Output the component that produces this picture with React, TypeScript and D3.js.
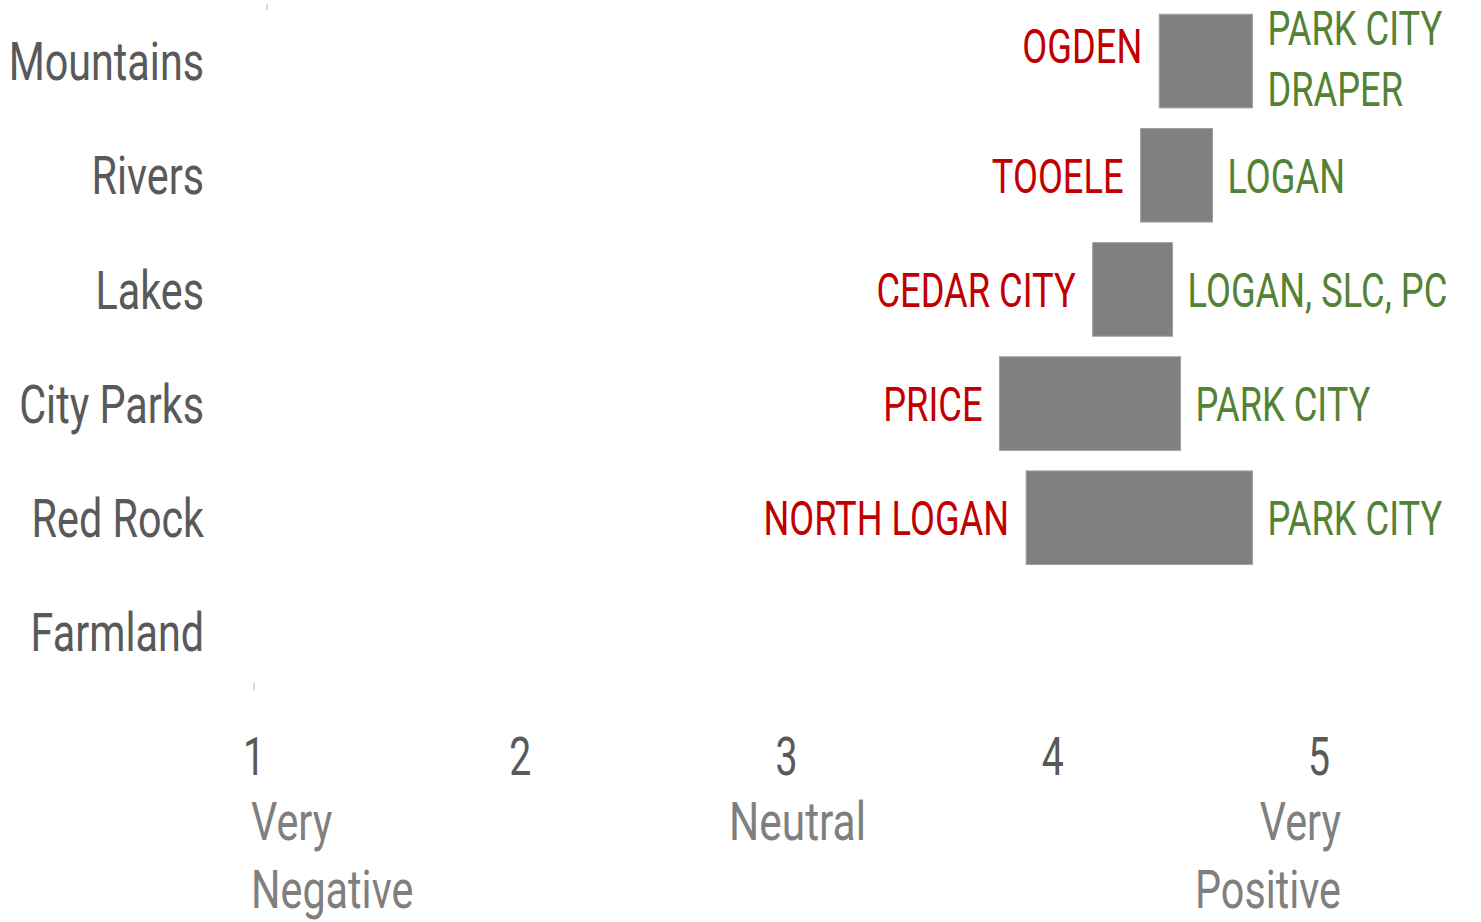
import React from "react";
import * as d3 from "d3";

const categories = ["Mountains", "Rivers", "Lakes", "City Parks", "Red Rock", "Farmland"];
const lowValues: (number | null)[] = [4.4, 4.33, 4.15, 3.8, 3.9, null];
const highValues: (number | null)[] = [4.75, 4.6, 4.45, 4.48, 4.75, null];
const lowLabels = ["OGDEN", "TOOELE", "CEDAR CITY", "PRICE", "NORTH LOGAN", ""];
const highLabels = [["PARK CITY", "DRAPER"], ["LOGAN"], ["LOGAN, SLC, PC"], ["PARK CITY"], ["PARK CITY"], []];
const tickValues = [1, 2, 3, 4, 5];

const W = 1481;
const H = 922;
const FONT = "Roboto, 'Noto Sans', sans-serif";

const x = d3.scaleLinear().domain([1, 5]).range([254, 1319]);
const y = d3
  .scaleBand<string>()
  .domain(categories)
  .range([4, 689])
  .paddingInner(0.18)
  .paddingOuter(0.09);

function T({
  px,
  py,
  anchor,
  size,
  fill,
  sx = 0.74,
  children,
}: {
  px: number;
  py: number;
  anchor: "start" | "middle" | "end";
  size: number;
  fill: string;
  sx?: number;
  children: React.ReactNode;
}) {
  return (
    <text
      transform={`translate(${px},${py}) scale(${sx},1)`}
      textAnchor={anchor}
      fontSize={size}
      fill={fill}
      fontFamily={FONT}
      fontWeight={400}
    >
      {children}
    </text>
  );
}

export default function App() {
  const catSize = 54;
  const lblSize = 49;
  const lineH = 61;
  return (
    <svg
      width={W}
      height={H}
      style={{ position: "absolute", left: 0, top: 0, background: "#fff" }}
    >
      <rect x={0} y={0} width={W} height={H} fill="#fff" />
      {/* faint axis remnants */}
      <line x1={267} x2={267} y1={4} y2={10} stroke="#d9d9d9" strokeWidth={2} />
      <line x1={254} x2={254} y1={683} y2={690} stroke="#d9d9d9" strokeWidth={2} />

      {categories.map((c, i) => {
        const cy = (y(c) as number) + y.bandwidth() / 2;
        const lo = lowValues[i];
        const hi = highValues[i];
        const highs = highLabels[i];
        const lowOffset = ((highs.length - 1) * lineH) / 4;
        const highShift = highs.length > 1 ? -3 : 0;
        return (
          <g key={c}>
            <T px={204} py={cy + 0.355 * catSize} anchor="end" size={catSize} fill="#595959" sx={0.765}>
              {c}
            </T>
            {lo != null && hi != null && (
              <>
                <rect
                  x={x(lo)}
                  y={y(c) as number}
                  width={x(hi) - x(lo)}
                  height={y.bandwidth()}
                  fill="#808080"
                  stroke="#a0a0a0"
                  strokeWidth={1}
                />
                <T
                  px={x(lo) - 17}
                  py={cy - lowOffset + 0.355 * lblSize}
                  anchor="end"
                  size={lblSize}
                  fill="#C00000"
                >
                  {lowLabels[i]}
                </T>
                {highs.map((h, j) => (
                  <T
                    key={j}
                    px={x(hi) + 15}
                    py={cy + highShift + (j - (highs.length - 1) / 2) * lineH + 0.355 * lblSize}
                    anchor="start"
                    size={lblSize}
                    fill="#548235"
                  >
                    {h}
                  </T>
                ))}
              </>
            )}
          </g>
        );
      })}

      {tickValues.map((t) => (
        <T key={t} px={x(t)} py={775} anchor="middle" size={53} fill="#595959">
          {String(t)}
        </T>
      ))}

      <T px={x(1) - 3} py={840} anchor="start" size={53} fill="#7f7f7f" sx={0.78}>
        Very
      </T>
      <T px={x(1) - 3} py={908} anchor="start" size={53} fill="#7f7f7f" sx={0.78}>
        Negative
      </T>
      <T px={x(3) + 11} py={840} anchor="middle" size={53} fill="#7f7f7f" sx={0.8}>
        Neutral
      </T>
      <T px={x(5) + 22} py={840} anchor="end" size={53} fill="#7f7f7f" sx={0.78}>
        Very
      </T>
      <T px={x(5) + 22} py={908} anchor="end" size={53} fill="#7f7f7f" sx={0.78}>
        Positive
      </T>
    </svg>
  );
}
